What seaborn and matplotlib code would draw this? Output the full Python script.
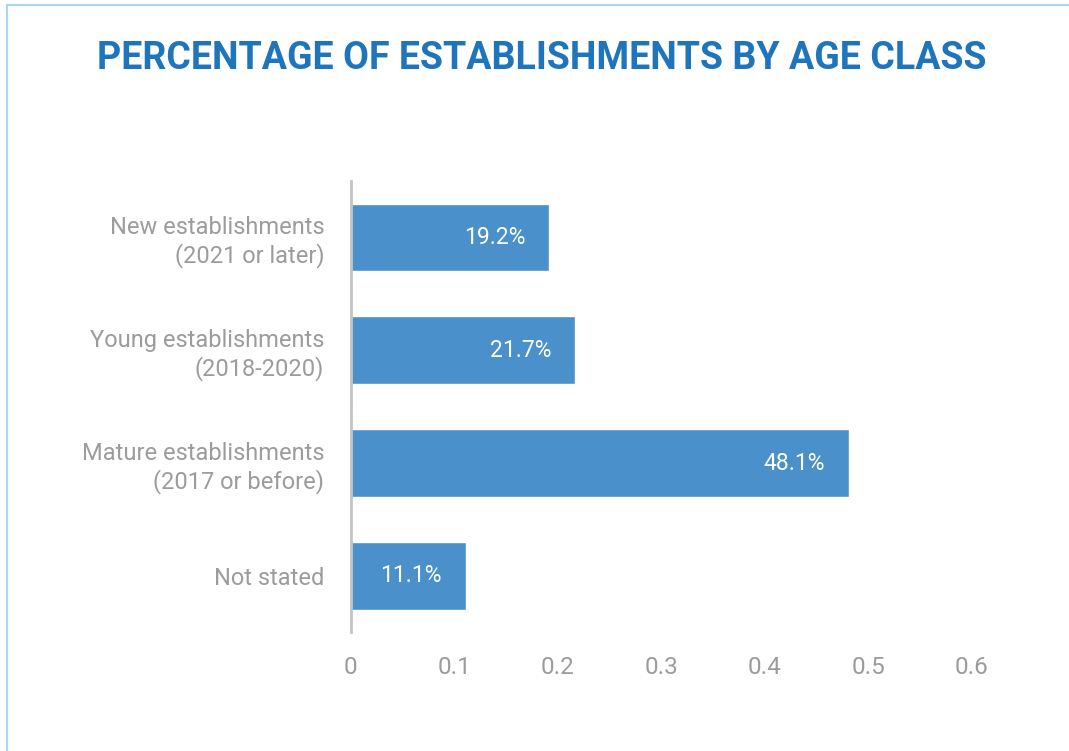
import matplotlib.pyplot as plt
import seaborn as sns
from matplotlib.lines import Line2D

# data
categories = ["New establishments\n(2021 or later)",
              "Young establishments\n(2018-2020)",
              "Mature establishments\n(2017 or before)",
              "Not stated"]
shares = [0.192, 0.217, 0.481, 0.111]
share_labels = ["19.2%", "21.7%", "48.1%", "11.1%"]
x_ticks = [0, 0.1, 0.2, 0.3, 0.4, 0.5, 0.6]
x_tick_labels = ["0", "0.1", "0.2", "0.3", "0.4", "0.5", "0.6"]

sns.set_style("white")
plt.rcParams['font.family'] = ['Roboto', 'DejaVu Sans']

BAR = "#4A91CB"
GREY = "#9C9C9C"

fig = plt.figure(figsize=(10.69, 7.51), dpi=100)
ax = fig.add_axes([0.328, 0.158, 0.581, 0.601])

sns.barplot(x=shares, y=categories, color=BAR, width=0.6, orient='h',
            saturation=1, ax=ax)

for i, (v, lab) in enumerate(zip(shares, share_labels)):
    ax.annotate(lab, xy=(v, i), xytext=(-17, 0), textcoords='offset points',
                ha='right', va='center', color='white', fontsize=16.5)

ax.set_xlim(0, 0.6)
ax.set_ylim(3.5, -0.5)
ax.set_xticks(x_ticks)
ax.set_xticklabels(x_tick_labels)
ax.tick_params(axis='both', length=0, colors=GREY, labelsize=17)
ax.tick_params(axis='y', pad=19)
ax.tick_params(axis='x', pad=17, labelsize=17.5)
ax.set_xlabel("")
ax.set_ylabel("")

for side in ['top', 'right', 'bottom']:
    ax.spines[side].set_visible(False)
ax.spines['left'].set_color("#C4C4C4")
ax.spines['left'].set_linewidth(2)

fig.text(0.507, 0.922, "PERCENTAGE OF ESTABLISHMENTS BY AGE CLASS",
         ha='center', va='center', fontsize=27, fontweight='bold', color="#1F75BC")

# light frame on the top and left
border = "#A9D8F2"
fig.add_artist(Line2D([7 / 1069, 7 / 1069], [0, 1 - 5 / 751], color=border, lw=1.5))
fig.add_artist(Line2D([7 / 1069, 1], [1 - 5 / 751, 1 - 5 / 751], color=border, lw=1.5))

fig.savefig("out.png", dpi=100)
